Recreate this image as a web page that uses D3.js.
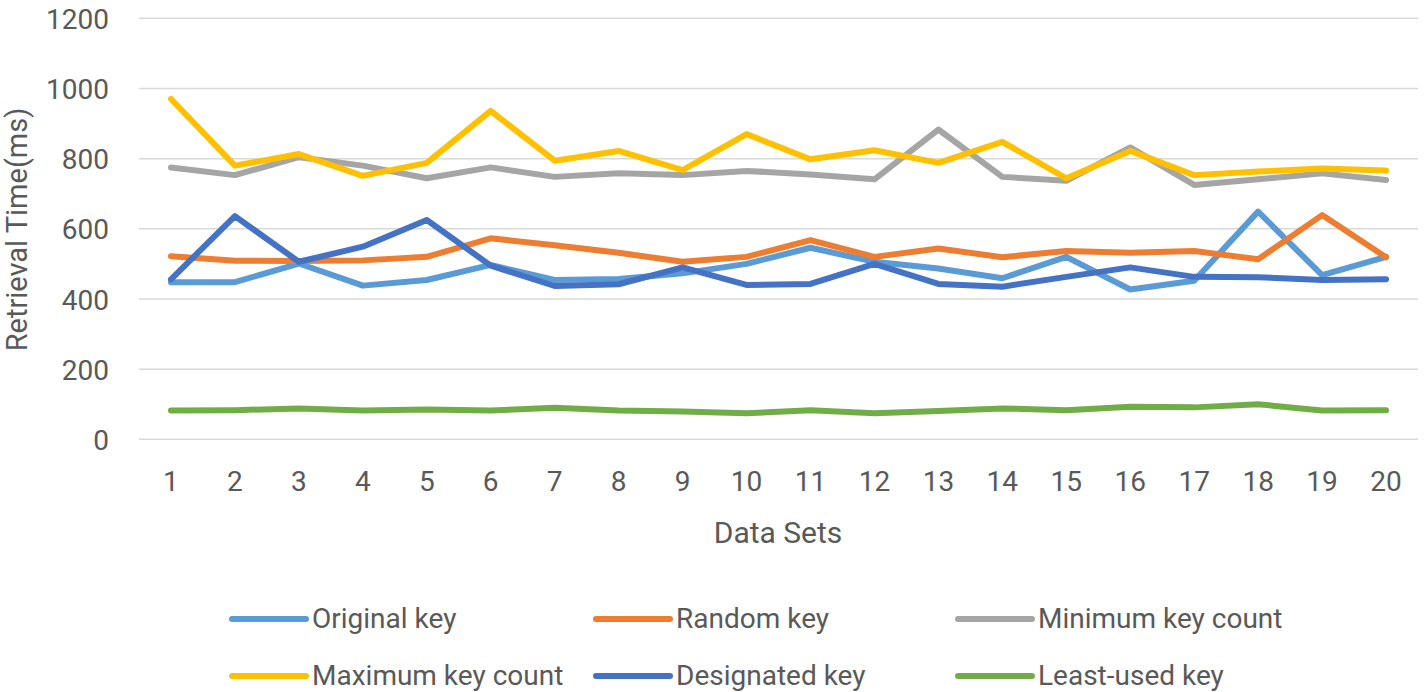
<!DOCTYPE html>
<html>
<head>
<meta charset="utf-8">
<script src="https://cdn.jsdelivr.net/npm/d3@7"></script>
<style>
  html, body { margin: 0; padding: 0; background: #fff; }
  svg { display: block; font-family: Roboto, "Open Sans", sans-serif; }
</style>
</head>
<body>
<svg id="chart" width="1424" height="692"></svg>
<script>
const categories = ["1","2","3","4","5","6","7","8","9","10","11","12","13","14","15","16","17","18","19","20"];
const yTicks = [0, 200, 400, 600, 800, 1000, 1200];
const seriesNames = ["Original key", "Random key", "Minimum key count", "Maximum key count", "Designated key", "Least-used key"];
const seriesColors = ["#5B9BD5", "#ED7D31", "#A5A5A5", "#FFC000", "#4472C4", "#70AD47"];

const originalKey   = [448, 448, 501, 438, 454, 497, 454, 457, 473, 500, 546, 506, 487, 459, 520, 427, 452, 649, 468, 520];
const randomKey     = [522, 509, 508, 510, 520, 573, 553, 532, 506, 520, 568, 520, 544, 519, 537, 532, 537, 513, 639, 519];
const minKeyCount   = [775, 753, 804, 780, 744, 775, 748, 758, 753, 765, 755, 741, 883, 748, 737, 832, 725, 741, 758, 739];
const maxKeyCount   = [970, 780, 813, 751, 788, 936, 794, 822, 767, 870, 798, 824, 788, 848, 744, 822, 753, 763, 772, 766];
const designatedKey = [456, 636, 506, 549, 625, 495, 437, 442, 490, 440, 443, 500, 443, 435, 463, 490, 463, 462, 454, 456];
const leastUsedKey  = [82, 83, 88, 82, 85, 82, 90, 82, 79, 74, 83, 74, 81, 88, 83, 93, 91, 100, 82, 83];

const seriesValues = [originalKey, randomKey, minKeyCount, maxKeyCount, designatedKey, leastUsedKey];

const svg = d3.select("#chart");
const textColor = "#595959";

const plotLeft = 139, plotRight = 1418, plotTop = 18.3, plotBottom = 439.3;

const x = d3.scaleBand().domain(categories).range([plotLeft, plotRight]).paddingInner(0).paddingOuter(0);
const y = d3.scaleLinear().domain([0, 1200]).range([plotBottom, plotTop]);

// gridlines
svg.append("g").selectAll("line").data(yTicks).join("line")
  .attr("x1", plotLeft).attr("x2", plotRight)
  .attr("y1", d => y(d)).attr("y2", d => y(d))
  .attr("stroke", "#D9D9D9").attr("stroke-width", 1.5);

// y axis labels
const yAxis = d3.axisLeft(y).tickValues(yTicks).tickSize(0).tickPadding(0).tickFormat(d3.format("d"));
const gy = svg.append("g").attr("transform", `translate(109,0)`).call(yAxis);
gy.select(".domain").remove();
gy.selectAll("text").attr("fill", textColor).attr("font-size", 28).attr("font-family", "Roboto").attr("dy", "0.36em");

// x axis labels
const xAxis = d3.axisBottom(x).tickSize(0).tickPadding(0);
const gx = svg.append("g").attr("transform", `translate(0,491)`).call(xAxis);
gx.select(".domain").remove();
gx.selectAll("text").attr("fill", textColor).attr("font-size", 28).attr("font-family", "Roboto").attr("dy", 0).attr("y", 0);

// axis titles
svg.append("text").attr("x", 778).attr("y", 543).attr("text-anchor", "middle")
  .attr("font-size", 30).attr("fill", textColor).text("Data Sets");
svg.append("text").attr("transform", "translate(27,229.5) rotate(-90)").attr("text-anchor", "middle")
  .attr("font-size", 29).attr("fill", textColor).text("Retrieval Time(ms)");

// lines
const line = d3.line().x((d, i) => x(categories[i]) + x.bandwidth() / 2).y(d => y(d));
svg.append("g").selectAll("path").data(seriesValues).join("path")
  .attr("d", d => line(d))
  .attr("fill", "none")
  .attr("stroke", (d, i) => seriesColors[i])
  .attr("stroke-width", 6)
  .attr("stroke-linejoin", "round")
  .attr("stroke-linecap", "round");

// legend
const legendCols = [232, 596, 958];
const legendRows = [619, 676];
const lg = svg.append("g").selectAll("g").data(seriesNames).join("g")
  .attr("transform", (d, i) => `translate(${legendCols[i % 3]},${legendRows[Math.floor(i / 3)]})`);
lg.append("line").attr("x1", 0).attr("x2", 74).attr("y1", 0).attr("y2", 0)
  .attr("stroke", (d, i) => seriesColors[i]).attr("stroke-width", 6).attr("stroke-linecap", "round");
lg.append("text").attr("x", 80).attr("y", 9).attr("font-size", 28).attr("fill", textColor).text(d => d);
</script>
</body>
</html>
